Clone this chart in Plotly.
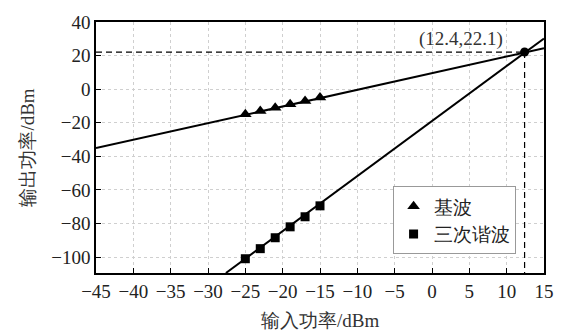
import plotly.graph_objects as go

# Data
input_power = [-25, -23, -21, -19, -17, -15]
fundamental = [-15, -13, -11, -9, -7, -5]
third_harmonic = [-101, -95, -88.5, -82, -76, -69.5]

fund_line_x = [-45, 15]
fund_line_y = [-35.1, 24.4]
third_line_x = [-27.6, 15]
third_line_y = [-109.5, 30.2]

ip3_x = 12.4
ip3_y = 22.1
x_min, x_max = -45, 15
y_min, y_max = -109.5, 40

FONT = "Liberation Serif"
FS = 19

fig = go.Figure()

# dashed guide lines
fig.add_trace(go.Scatter(x=[x_min, ip3_x], y=[ip3_y, ip3_y], mode="lines",
                         line=dict(color="black", width=1.2, dash="6px,4px"), showlegend=False))
fig.add_trace(go.Scatter(x=[ip3_x, ip3_x], y=[ip3_y, y_min], mode="lines",
                         line=dict(color="black", width=1.2, dash="6px,4px"), showlegend=False))

# fit lines
fig.add_trace(go.Scatter(x=fund_line_x, y=fund_line_y, mode="lines",
                         line=dict(color="black", width=2), showlegend=False))
fig.add_trace(go.Scatter(x=third_line_x, y=third_line_y, mode="lines",
                         line=dict(color="black", width=2), showlegend=False))

# markers
fig.add_trace(go.Scatter(x=input_power, y=fundamental, mode="markers", name="基波",
                         marker=dict(symbol="triangle-up", size=11, color="black")))
fig.add_trace(go.Scatter(x=input_power, y=third_harmonic, mode="markers", name="三次谐波",
                         marker=dict(symbol="square", size=9, color="black")))

# intersection point
fig.add_trace(go.Scatter(x=[ip3_x], y=[ip3_y], mode="markers", showlegend=False,
                         marker=dict(symbol="circle", size=9, color="black")))

fig.add_annotation(x=ip3_x, y=ip3_y, text="(%.1f,%.1f)" % (ip3_x, ip3_y), showarrow=False,
                   xanchor="right", yanchor="bottom", xshift=-20, yshift=0,
                   font=dict(family=FONT, size=FS, color="#333"))

# x-axis title as annotation (placed lower than plotly's margin-constrained title)
fig.add_annotation(x=0.5, y=0, xref="paper", yref="paper", text="输入功率/dBm",
                   showarrow=False, xanchor="center", yanchor="middle", yshift=-47,
                   font=dict(family=FONT, size=FS, color="#333"))

axis_common = dict(showline=True, linecolor="black", linewidth=1.5, mirror=True,
                   ticks="inside", ticklen=5, tickcolor="black", tickwidth=1,
                   showgrid=True, gridcolor="#cfcfcf", griddash="dot", gridwidth=1,
                   zeroline=False, tickfont=dict(family=FONT, size=FS, color="#222"))

fig.update_xaxes(range=[x_min, x_max], tickmode="linear", tick0=-45, dtick=5,
                 **axis_common)
fig.update_yaxes(range=[y_min, y_max], tickmode="linear", tick0=-100, dtick=20,
                 title=dict(text="输出功率/dBm", font=dict(family=FONT, size=FS, color="#333"), standoff=12),
                 **axis_common)

fig.update_layout(
    width=566, height=333,
    margin=dict(l=96, r=15, t=17, b=60),
    paper_bgcolor="white", plot_bgcolor="white",
    showlegend=True,
    legend=dict(x=0.662, y=0.345, xanchor="left", yanchor="top",
                bordercolor="#999", borderwidth=1, bgcolor="white",
                font=dict(family=FONT, size=FS, color="#222"),
                tracegroupgap=0, itemwidth=30),
)

fig.write_html("out.html")
